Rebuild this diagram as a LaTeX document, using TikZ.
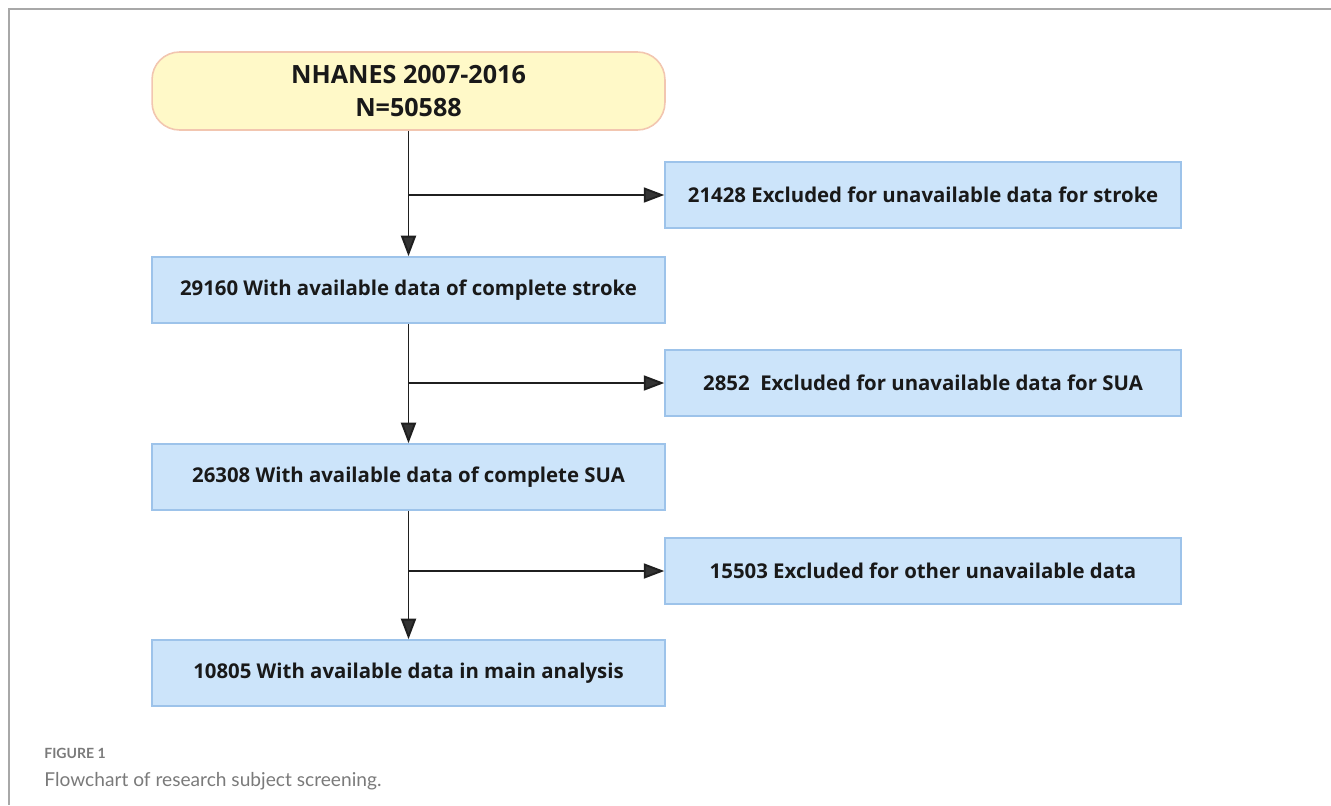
\documentclass[tikz,border=0pt]{standalone}
\usepackage{fontspec}
\setmainfont{Open Sans}
\newfontfamily\capfont{Lato}
\usetikzlibrary{arrows.meta}
\usepackage{xcolor}
\definecolor{boxblue}{HTML}{CCE4FA}
\definecolor{boxedge}{HTML}{9DC3EA}
\definecolor{startfill}{HTML}{FFF9C8}
\definecolor{startedge}{HTML}{F2C6B0}
\definecolor{framegray}{HTML}{A8A8A8}
\definecolor{capgray}{HTML}{7A7A7A}
\definecolor{tipgray}{HTML}{333333}

\begin{document}
\begin{tikzpicture}[x=0.02cm,y=-0.02cm,>={Triangle[length=0.41cm,width=0.3cm,fill=tipgray]},
  boxtext/.style={font=\bfseries\fontsize{11.6}{15}\selectfont,text=black!90,inner sep=0pt,align=center},
  stepbox/.style={boxtext,draw=boxedge,fill=boxblue,line width=0.9pt,minimum width=10.26cm,minimum height=1.32cm},
  exclbox/.style={stepbox,minimum width=10.32cm},
  startbox/.style={boxtext,font=\bfseries\fontsize{14.3}{18.5}\selectfont,draw=startedge,fill=startfill,line width=0.9pt,rounded corners=0.55cm,minimum width=10.26cm,minimum height=1.56cm},
  flow/.style={->,draw=black!88,line width=1.1pt}]
\useasboundingbox (0,0) rectangle (1331,805);
% frame
\draw[framegray,line width=1.2pt] (1331,9) -- (9,9) -- (9,805);
% boxes
\node[startbox] (start) at (408.5,91) {NHANES 2007-2016\\N=50588};
\node[exclbox] (ex1) at (923,195) {21428 Excluded for unavailable data for stroke};
\node[stepbox] (s1) at (408.5,290) {29160 With available data of complete stroke};
\node[exclbox] (ex2) at (923,383) {2852\ \ Excluded for unavailable data for SUA};
\node[stepbox] (s2) at (408.5,477) {26308 With available data of complete SUA};
\node[exclbox] (ex3) at (923,571) {15503 Excluded for other unavailable data};
\node[stepbox] (s3) at (408.5,673) {10805 With available data in main analysis};
% arrows
\draw[flow] (start) -- (s1);
\draw[flow] (s1) -- (s2);
\draw[flow] (s2) -- (s3);
\draw[flow] (ex1.west -| start.south) -- (ex1.west);
\draw[flow] (ex2.west -| s1.south) -- (ex2.west);
\draw[flow] (ex3.west -| s2.south) -- (ex3.west);
% caption
\node[anchor=base west,inner sep=0pt,text=capgray,font=\capfont\bfseries\fontsize{8}{9}\selectfont] (figlabel) at (44,758) {FIGURE 1};
\node[anchor=base west,inner sep=0pt,text=capgray,font=\capfont\fontsize{10.9}{13}\selectfont] (caption) at (44,786) {Flowchart of research subject screening.};
\end{tikzpicture}
\end{document}
